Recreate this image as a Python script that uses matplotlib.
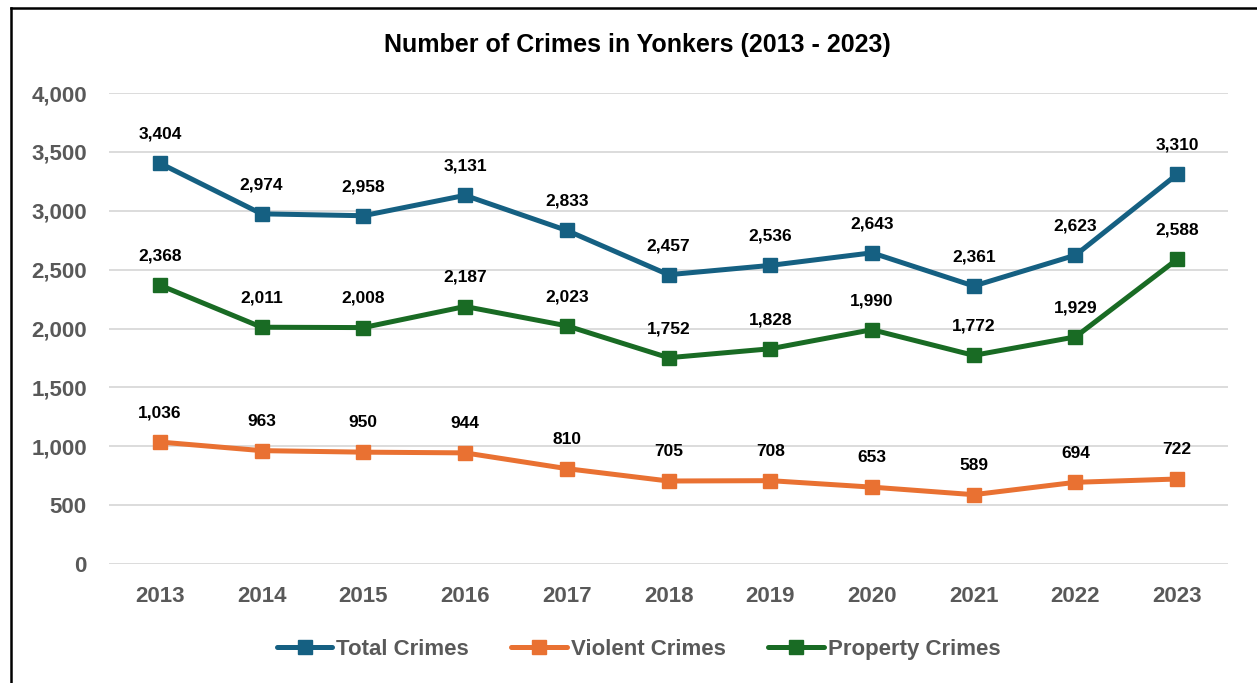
import matplotlib
matplotlib.use("Agg")
import matplotlib.pyplot as plt
from matplotlib.lines import Line2D
from matplotlib.ticker import FuncFormatter

plt.rcParams['font.family'] = ['Liberation Sans', 'DejaVu Sans']

years = ["2013", "2014", "2015", "2016", "2017", "2018", "2019", "2020", "2021", "2022", "2023"]
total_crimes = [3404, 2974, 2958, 3131, 2833, 2457, 2536, 2643, 2361, 2623, 3310]
violent_crimes = [1036, 963, 950, 944, 810, 705, 708, 653, 589, 694, 722]
property_crimes = [2368, 2011, 2008, 2187, 2023, 1752, 1828, 1990, 1772, 1929, 2588]

series = [
    ("Total Crimes", total_crimes, "#156082"),
    ("Violent Crimes", violent_crimes, "#E97132"),
    ("Property Crimes", property_crimes, "#196B24"),
]

fig = plt.figure(figsize=(12.57, 6.83), dpi=100)
ax = fig.add_axes([0.0867, 0.1742, 0.8903, 0.6896])

x = list(range(len(years)))
handles = []
for name, vals, color in series:
    line, = ax.plot(x, vals, color=color, linewidth=3.6, marker="s", markersize=10,
                    solid_capstyle="round", solid_joinstyle="round", zorder=3, label=name)
    handles.append(line)
    for xi, v in zip(x, vals):
        ax.annotate(f"{v:,}", (xi, v), xytext=(0, 21), textcoords="offset points",
                    ha="center", va="center", fontsize=12.5, fontweight="bold", color="#000000")

ax.set_xlim(-0.5, len(years) - 0.5)
ax.set_ylim(0, 4000)
ax.set_yticks(range(0, 4001, 500))
ax.yaxis.set_major_formatter(FuncFormatter(lambda v, p: f"{int(v):,}"))
ax.set_xticks(x)
ax.set_xticklabels(years)
ax.grid(axis="y", color="#D9D9D9", linewidth=1.3)
ax.set_axisbelow(True)
for s in ax.spines.values():
    s.set_visible(False)
ax.tick_params(length=0, labelsize=16, labelcolor="#595959")
ax.tick_params(axis="x", pad=16)
ax.tick_params(axis="y", pad=16)
for lbl in ax.get_xticklabels() + ax.get_yticklabels():
    lbl.set_fontweight("bold")

fig.text(0.507, 0.934, "Number of Crimes in Yonkers (2013 - 2023)", ha="center", va="center",
         fontsize=18, fontweight="bold", color="#000000")

leg = fig.legend(handles=handles, loc="center", bbox_to_anchor=(0.508, 0.049), ncol=3, frameon=False,
                 fontsize=16, handlelength=2.5, columnspacing=1.9, handletextpad=0.18)
for t in leg.get_texts():
    t.set_fontweight("bold")
    t.set_color("#595959")

# frame edges
fig.add_artist(Line2D([11 / 1257, 1], [1 - 8 / 683, 1 - 8 / 683], transform=fig.transFigure,
                      color="black", linewidth=1.8))
fig.add_artist(Line2D([11 / 1257, 11 / 1257], [0, 1 - 8 / 683], transform=fig.transFigure,
                      color="black", linewidth=1.8))

fig.savefig("out.png", dpi=100, facecolor="white")
